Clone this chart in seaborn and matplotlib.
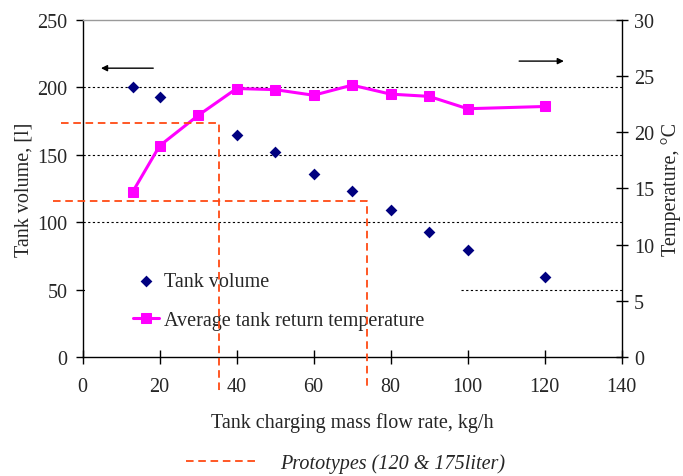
import matplotlib
matplotlib.use("Agg")
import matplotlib.pyplot as plt
from matplotlib.patches import Rectangle
import seaborn as sns
import pandas as pd

# ---- data ----
flow_rate = [13, 20, 30, 40, 50, 60, 70, 80, 90, 100, 120]
tank_volume = [200, 193, None, 165, 152, 136, 123, 109, 93, 79, 59]
return_temp = [14.7, 18.8, 21.5, 23.9, 23.8, 23.3, 24.2, 23.4, 23.2, 22.1, 22.3]

proto_flow = [35.5, 74]          # prototype design flow rates, kg/h
proto_volume = [173.5, 115.5]    # prototype tank volumes, l
proto_label = "Prototypes (120 & 175liter)"

x_ticks = [0, 20, 40, 60, 80, 100, 120, 140]
vol_ticks = [0, 50, 100, 150, 200, 250]
temp_ticks = [0, 5, 10, 15, 20, 25, 30]

df = pd.DataFrame({"flow": flow_rate, "volume": tank_volume, "temp": return_temp})
df_vol = df.dropna(subset=["volume"])

# ---- style ----
sns.set_theme(style="white")
plt.rcParams["font.family"] = ["Liberation Serif", "DejaVu Serif"]
FS = 14.5

fig = plt.figure(figsize=(6.83, 4.77), dpi=100)
ax1 = fig.add_axes([0.121, 0.2495, 0.789, 0.7065])
ax2 = ax1.twinx()

# Tank volume (left axis)
sns.scatterplot(data=df_vol, x="flow", y="volume", ax=ax1, marker="D", s=36,
                color="#000080", edgecolor="#000080", linewidth=0,
                label="Tank volume", zorder=3)
# Temperature (right axis)
sns.lineplot(data=df, x="flow", y="temp", ax=ax2, color="#FF00FF", lw=2.2,
             marker="s", markersize=7.5, markeredgecolor="#FF00FF",
             label="Average tank return temperature", zorder=3)

# prototype reference lines (in left-axis units), drawn above everything
red = "#FF4A14"
dash = (0, (4.2, 2.6))
x_left_ext = [-5.6, -7.7]
y_low_ext = [-27.5, -22.0]
proto_handle = None
for fx, vy, xl, yl in zip(proto_flow, proto_volume, x_left_ext, y_low_ext):
    ln, = ax2.plot([xl, fx, fx], [vy, vy, yl], color=red, lw=1.3, ls=dash,
                   transform=ax1.transData, clip_on=False, zorder=6)
    proto_handle = ln

# axes limits/ticks
ax1.set_xlim(0, 140)
ax1.set_ylim(0, 250)
ax2.set_ylim(0, 30)
ax1.set_xticks(x_ticks)
ax1.set_yticks(vol_ticks)
ax2.set_yticks(temp_ticks)
ax1.set_xticklabels([str(v) for v in x_ticks], fontsize=FS)
ax1.set_yticklabels([str(v) for v in vol_ticks], fontsize=FS)
ax2.set_yticklabels([str(v) for v in temp_ticks], fontsize=FS)

# gridlines
ax1.yaxis.grid(True, color="black", lw=0.8, ls=(0, (2, 2.2)))
ax1.xaxis.grid(False)
ax2.grid(False)
gls = ax1.yaxis.get_gridlines()
gls[0].set_visible(False)
gls[-1].set_visible(False)

# spines
for s in ["left", "bottom"]:
    ax1.spines[s].set_color("black")
    ax1.spines[s].set_linewidth(1.0)
ax1.spines["top"].set_color("#9A9A9A")
ax1.spines["top"].set_linewidth(1.0)
ax1.spines["right"].set_visible(False)
for s in ["left", "bottom", "top"]:
    ax2.spines[s].set_visible(False)
ax2.spines["right"].set_color("black")
ax2.spines["right"].set_linewidth(1.0)

ax1.tick_params(axis="y", direction="out", length=5, width=1, color="black",
                pad=6, left=True)
ax1.tick_params(axis="x", direction="inout", length=9.5, width=1, color="black",
                pad=9.5, bottom=True)
ax2.tick_params(axis="y", direction="inout", length=8, width=1, color="black",
                pad=5, right=True)

ax1.set_xlabel("Tank charging mass flow rate, kg/h", fontsize=FS, labelpad=12)
ax1.set_ylabel("Tank volume, [l]", fontsize=FS, labelpad=3)
ax2.set_ylabel("Temperature, °C", fontsize=FS, labelpad=5)

# direction arrows
arrow_kw = dict(arrowstyle="-|>", color="black", lw=1.0, mutation_scale=9,
                shrinkA=0, shrinkB=0)
ax1.annotate("", xy=(0.034, 0.857), xytext=(0.131, 0.857),
             xycoords="axes fraction", arrowprops=arrow_kw)
ax2.annotate("", xy=(0.893, 0.878), xytext=(0.81, 0.878),
             xycoords="axes fraction", arrowprops=arrow_kw)

# legend (inside) with white background covering gridline
h1, l1 = ax1.get_legend_handles_labels()
h2, l2 = ax2.get_legend_handles_labels()
if ax1.get_legend():
    ax1.get_legend().remove()
if ax2.get_legend():
    ax2.get_legend().remove()
ax2.add_patch(Rectangle((0.004, 0.02), 0.698, 0.27, transform=ax2.transAxes,
                        facecolor="white", edgecolor="none", zorder=4))
ax2.legend(h1 + h2, l1 + l2, loc="center left", bbox_to_anchor=(0.093, 0.166),
           frameon=False, fontsize=FS, handlelength=1.3, handletextpad=0.25,
           labelspacing=1.0, borderpad=0, borderaxespad=0, scatterpoints=1)

# figure legend for prototypes
fig.legend([proto_handle], [proto_label], loc="center left",
           bbox_to_anchor=(0.272, 0.026), frameon=False,
           prop=dict(family=["Liberation Serif"], style="italic", size=FS),
           handlelength=3.5, handletextpad=1.2, borderpad=0, borderaxespad=0)

fig.savefig("out.png", dpi=100)
